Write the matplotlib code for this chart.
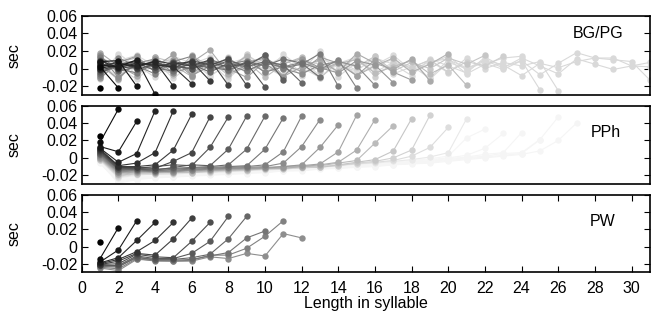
import numpy as np
import matplotlib
matplotlib.use("Agg")
import matplotlib.pyplot as plt

plt.rcParams['font.family'] = ['Liberation Sans', 'DejaVu Sans']
plt.rcParams['font.size'] = 11.5

# values in ms, one list per unit length (x = syllable position 1..L)
bgpg_series = [
    [-22],
    [2, -22],
    [8, 9, -20],
    [4, 2, 10, -29],
    [0, 5, 3, 8, -20],
    [9, 1, 6, 4, 2, -17],
    [3, 7, 1, 9, 5, 8, -14],
    [-2, 4, 8, 2, 6, 3, 10, -19],
    [6, 0, 3, 7, 1, 9, 4, 11, -19],
    [1, 8, -1, 5, 3, 0, 7, 2, 6, -21],
    [-4, 3, 6, -2, 8, 4, 1, 9, 3, 15, -13],
    [10, -3, 2, 7, 0, 5, -4, 6, 2, 8, 4, -16],
    [-6, 5, 9, 1, -3, 7, 2, -2, 8, 3, 11, 6, -10],
    [13, 0, -5, 6, 3, -1, 10, 4, -3, 7, 1, 5, 17, -20],
    [-8, 12, 3, -6, 8, 14, -2, 5, 9, -4, 2, 7, -1, 10, -22],
    [15, -10, 6, 11, -5, 2, 9, -3, 7, 12, 0, -6, 4, 8, 3, -19],
    [-11, 7, 14, -4, 10, -8, 3, 12, -2, 6, -9, 11, 1, -5, 9, 4, -16],
    [5, -12, 9, 2, 16, -7, 11, 0, -10, 8, 4, -3, 13, 6, -8, 10, -4, -13],
    [18, 3, -8, 13, -2, 7, 21, -6, 4, 15, -9, 2, 10, -4, 17, 6, -1, 11, -14],
    [-6, 8, 12, -3, 4, -9, 9, 1, 14, -5, 6, 11, -2, 7, -8, 3, 12, -4, 5, 17],
    [12, -4, 3, 9, -7, 15, 2, -1, 8, -10, 5, 13, -3, 6, 10, -5, 2, 9, -6, 4, -19],
    [-9, 5, -2, 13, 7, -4, 10, -8, 3, 11, -1, 6, -11, 8, 2, 14, -3, 7, 0, 12, 5, 15],
    [7, -11, 10, 1, -6, 12, 4, -3, 16, 2, -7, 9, 5, -2, 13, -9, 6, 1, 10, -4, 8, 3, 14],
    [-3, 14, -8, 6, 11, -1, 7, -12, 9, 3, 13, -5, 1, 10, -7, 4, 15, -2, 8, 11, -6, 5, 12, 14],
    [16, -7, 4, -10, 9, 2, -3, 13, -6, 8, 0, 12, -9, 5, 11, -4, 7, 3, -11, 10, 1, 6, -1, 9, -24],
    [-12, 9, 15, 3, -5, 10, -9, 6, 12, -2, 7, -8, 11, 4, -3, 14, -6, 2, 9, -5, 12, 0, 7, 3, 8, -25],
    [4, -13, 11, -1, 14, 6, -7, 3, 10, -4, 16, 1, -10, 8, -2, 12, 5, -8, 11, 3, -5, 13, 2, 9, -7, 6, 18, 12, 12, 3, 2, -6],
    [-10, 17, 2, 8, -11, 5, 13, -6, 1, 9, 4, -3, 20, -9, 7, 2, 11, -4, 6, 14, -2, 9, 1, 12, 3, -6, 11, 5, -1, 3, 7],
    [14, 1, -12, 6, 10, -4, 8, -7, 15, 2, -9, 11, -1, 6, 13, -5, 3, 9, -12, 7, 0, 10, 4, -8, 6, 1, 8, 12, 10, 8, -13, -8, -15],
]

pph_series = [
    [25],
    [18, 56],
    [13, 7, 42],
    [11, -5, 5, 54],
    [10, -9, -6, 6, 54],
    [9, -10, -10, -8, 9, 50],
    [8, -11, -11, -12, -4, 6, 47],
    [7, -12, -12, -10, -8, -9, 12, 47],
    [6, -13, -13, -14, -11, -8, -9, 10, 48],
    [5, -13, -12, -13, -12, -11, -10, -8, 10, 48],
    [4, -14, -14, -15, -13, -12, -11, -10, -9, 10, 46],
    [3, -15, -13, -14, -14, -13, -12, -11, -10, -8, 7, 48],
    [2, -16, -15, -16, -15, -14, -13, -12, -11, -10, -6, 13, 44],
    [1, -16, -14, -15, -16, -14, -13, -12, -12, -11, -10, -8, 12, 38],
    [0, -17, -16, -15, -15, -14, -14, -13, -12, -12, -10, -9, -7, 7, 49],
    [0, -18, -16, -17, -16, -15, -14, -14, -13, -12, -12, -10, -8, -5, 9, 44],
    [-1, -19, -17, -16, -17, -16, -15, -13, -14, -12, -11, -10, -9, -6, -3, 17, 37],
    [-1, -20, -18, -17, -16, -17, -15, -14, -13, -13, -12, -10, -11, -8, -5, -2, 8, 45],
    [-2, -21, -18, -18, -17, -16, -16, -15, -14, -12, -13, -11, -10, -9, -6, -4, 0, 9, 49],
    [-2, -22, -19, -19, -18, -17, -16, -15, -15, -13, -12, -12, -10, -8, -7, -5, -3, 2, 12, 35],
    [-3, -23, -20, -18, -19, -17, -17, -16, -14, -14, -13, -11, -11, -9, -7, -6, -4, -2, 1, 6, 45],
    [-3, -24, -21, -20, -19, -18, -17, -16, -15, -14, -13, -12, -11, -10, -8, -7, -5, -3, -1, 2, 23, 33],
    [-4, -25, -21, -20, -20, -19, -18, -17, -15, -15, -14, -12, -12, -10, -9, -7, -6, -4, -2, 0, 3, 11, 28],
    [-4, -26, -22, -21, -20, -19, -18, -17, -16, -15, -14, -13, -11, -11, -9, -8, -6, -5, -3, -1, 1, 4, 6, 29],
    [-5, -27, -23, -22, -21, -20, -19, -17, -16, -16, -14, -13, -12, -11, -10, -8, -7, -5, -4, -2, 0, 2, 5, 6, 21],
    [-5, -28, -24, -22, -22, -20, -19, -18, -17, -16, -15, -14, -12, -12, -10, -9, -8, -6, -5, -3, -1, 1, 3, 5, 21, 47],
    [-6, -29, -25, -23, -22, -21, -20, -19, -18, -17, -15, -15, -13, -12, -11, -10, -8, -7, -6, -4, -2, 0, 2, 4, 8, 20, 40],
]

pw_series = [
    [5],
    [-14, 22],
    [-18, -4, 30],
    [-19, -13, 7, 28],
    [-20, -15, -6, 7, 28],
    [-21, -17, -8, -10, 9, 33],
    [-21, -20, -9, -12, -13, 6, 28],
    [-22, -22, -11, -14, -14, -8, 6, 35],
    [-22, -23, -13, -15, -15, -13, -9, 9, 35],
    [-23, -24, -12, -16, -16, -15, -11, -7, 10, 18],
    [-24, -26, -14, -17, -17, -16, -10, -10, -2, 12, 30],
    [-25, -28, -15, -16, -17, -17, -12, -14, -8, -11, 15, 10],
]

panel_names = ['BG/PG', 'PPh', 'PW']
yticks = [-0.02, 0, 0.02, 0.04, 0.06]
ytick_labels = ['-0.02', '0', '0.02', '0.04', '0.06']
xticks = list(range(0, 31, 2))

fig = plt.figure(figsize=(6.7, 3.2), dpi=100)
boxes = [[0.122, 0.703, 0.848, 0.248],
         [0.122, 0.425, 0.848, 0.245],
         [0.122, 0.149, 0.848, 0.242]]
spans = [24, 22, 20]          # length at which the grey ramp runs out
caps = [0.85, 0.96, 0.96]
label_pos = [(0.909, 0.78), (0.923, 0.655), (0.917, 0.655)]

for k, series in enumerate([bgpg_series, pph_series, pw_series]):
    ax = fig.add_axes(boxes[k])
    # longest (lightest) first so the dark short units sit on top
    for s in sorted(series, key=len, reverse=True):
        L = len(s)
        g = min(caps[k], caps[k] * (L - 1) / (spans[k] - 1))
        x = np.arange(1, L + 1)
        y = np.array(s) / 1000.0
        ax.plot(x, y, '-o', color=(g, g, g), lw=0.8, ms=4.6, mew=0)
    ax.set_xlim(0, 31)
    ax.set_ylim(-0.03, 0.06)
    ax.set_yticks(yticks)
    ax.set_yticklabels(ytick_labels)
    ax.tick_params(axis='y', direction='in', left=True, right=True, length=4, pad=3)
    for sp in ax.spines.values():
        sp.set_linewidth(1.2)
    ax.set_ylabel('sec')
    ax.yaxis.set_label_coords(-0.106, 0.5)
    ax.text(label_pos[k][0], label_pos[k][1], panel_names[k], transform=ax.transAxes,
            ha='center', va='center')
    if k < 2:
        ax.set_xticks([])
    else:
        ax.set_xticks(xticks)
        ax.tick_params(axis='x', direction='in', bottom=True, top=True, length=4, pad=6)
        ax.set_xlabel('Length in syllable')
        ax.xaxis.set_label_coords(0.5, -0.31)

plt.savefig('out.png', dpi=100)
